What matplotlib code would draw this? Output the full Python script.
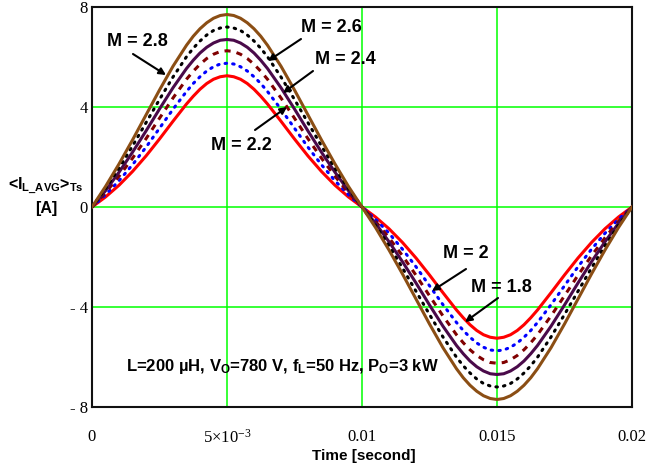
import numpy as np
import matplotlib
matplotlib.use("Agg")
import matplotlib.pyplot as plt

plt.rcParams['mathtext.fontset'] = 'custom'
plt.rcParams['mathtext.rm'] = 'Liberation Serif'
plt.rcParams['mathtext.it'] = 'Liberation Serif:italic'
plt.rcParams['mathtext.sf'] = 'Liberation Sans:bold'
plt.rcParams['mathtext.bf'] = 'Liberation Sans:bold'

# sample times in milliseconds (denser around the peaks)
time_ms = [0, 0.5, 1, 1.5, 2, 2.5, 3, 3.5, 3.75, 4, 4.25, 4.5, 4.75, 5, 5.25, 5.5, 5.75, 6, 6.25,
           6.5, 7, 7.5, 8, 8.5, 9, 9.5, 10,
           10.5, 11, 11.5, 12, 12.5, 13, 13.5, 13.75, 14, 14.25, 14.5, 14.75, 15, 15.25, 15.5, 15.75, 16, 16.25,
           16.5, 17, 17.5, 18, 18.5, 19, 19.5, 20]

i_m18 = [0, 0.40, 0.87, 1.42, 2.04, 2.72, 3.43, 4.12, 4.43, 4.71, 4.94, 5.11, 5.21, 5.25, 5.21, 5.11, 4.94, 4.71, 4.43,
         4.12, 3.43, 2.72, 2.04, 1.42, 0.87, 0.40, 0,
         -0.40, -0.87, -1.42, -2.04, -2.72, -3.43, -4.12, -4.43, -4.71, -4.94, -5.11, -5.21, -5.25, -5.21, -5.11, -4.94, -4.71, -4.43,
         -4.12, -3.43, -2.72, -2.04, -1.42, -0.87, -0.40, 0]
i_m20 = [0, 0.49, 1.05, 1.69, 2.39, 3.15, 3.91, 4.62, 4.94, 5.21, 5.44, 5.61, 5.72, 5.75, 5.72, 5.61, 5.44, 5.21, 4.94,
         4.62, 3.91, 3.15, 2.39, 1.69, 1.05, 0.49, 0,
         -0.49, -1.05, -1.69, -2.39, -3.15, -3.91, -4.62, -4.94, -5.21, -5.44, -5.61, -5.72, -5.75, -5.72, -5.61, -5.44, -5.21, -4.94,
         -4.62, -3.91, -3.15, -2.39, -1.69, -1.05, -0.49, 0]
i_m22 = [0, 0.57, 1.23, 1.95, 2.73, 3.55, 4.36, 5.11, 5.43, 5.71, 5.94, 6.11, 6.22, 6.25, 6.22, 6.11, 5.94, 5.71, 5.43,
         5.11, 4.36, 3.55, 2.73, 1.95, 1.23, 0.57, 0,
         -0.57, -1.23, -1.95, -2.73, -3.55, -4.36, -5.11, -5.43, -5.71, -5.94, -6.11, -6.22, -6.25, -6.22, -6.11, -5.94, -5.71, -5.43,
         -5.11, -4.36, -3.55, -2.73, -1.95, -1.23, -0.57, 0]
i_m24 = [0, 0.65, 1.39, 2.19, 3.04, 3.92, 4.77, 5.54, 5.87, 6.16, 6.39, 6.56, 6.67, 6.70, 6.67, 6.56, 6.39, 6.16, 5.87,
         5.54, 4.77, 3.92, 3.04, 2.19, 1.39, 0.65, 0,
         -0.65, -1.39, -2.19, -3.04, -3.92, -4.77, -5.54, -5.87, -6.16, -6.39, -6.56, -6.67, -6.70, -6.67, -6.56, -6.39, -6.16, -5.87,
         -5.54, -4.77, -3.92, -3.04, -2.19, -1.39, -0.65, 0]
i_m26 = [0, 0.74, 1.55, 2.44, 3.37, 4.30, 5.20, 6.01, 6.35, 6.64, 6.88, 7.06, 7.16, 7.20, 7.16, 7.06, 6.88, 6.64, 6.35,
         6.01, 5.20, 4.30, 3.37, 2.44, 1.55, 0.74, 0,
         -0.74, -1.55, -2.44, -3.37, -4.30, -5.20, -6.01, -6.35, -6.64, -6.88, -7.06, -7.16, -7.20, -7.16, -7.06, -6.88, -6.64, -6.35,
         -6.01, -5.20, -4.30, -3.37, -2.44, -1.55, -0.74, 0]
i_m28 = [0, 0.82, 1.72, 2.68, 3.68, 4.68, 5.63, 6.47, 6.83, 7.13, 7.37, 7.55, 7.66, 7.70, 7.66, 7.55, 7.37, 7.13, 6.83,
         6.47, 5.63, 4.68, 3.68, 2.68, 1.72, 0.82, 0,
         -0.82, -1.72, -2.68, -3.68, -4.68, -5.63, -6.47, -6.83, -7.13, -7.37, -7.55, -7.66, -7.70, -7.66, -7.55, -7.37, -7.13, -6.83,
         -6.47, -5.63, -4.68, -3.68, -2.68, -1.72, -0.82, 0]

x_ticks = [0, 0.005, 0.01, 0.015, 0.02]
x_ticklabels = ['0', '5×10$^{-3}$', '0.01', '0.015', '0.02']
y_ticks = [-8, -4, 0, 4, 8]
y_ticklabels = ['- 8', '- 4', '0', '4', '8']

time_s = np.array(time_ms) / 1000.0

fig = plt.figure(figsize=(6.51, 4.68), dpi=100)
ax = fig.add_axes([92/651, 1 - 407/468, (632-92)/651, (407-7)/468])

lw = 2.2
ax.plot(time_s, i_m18, color='#ff0000', lw=lw, solid_joinstyle='round', zorder=3)
ax.plot(time_s, i_m20, color='#0000ff', lw=lw, ls=(0, (0.5, 2.0)), dash_capstyle='round', zorder=3)
ax.plot(time_s, i_m22, color='#800000', lw=lw, ls=(0, (2.0, 2.0)), zorder=3)
ax.plot(time_s, i_m24, color='#4a0a4a', lw=lw, solid_joinstyle='round', zorder=3)
ax.plot(time_s, i_m26, color='#000000', lw=lw, ls=(0, (0.5, 2.0)), dash_capstyle='round', zorder=3)
ax.plot(time_s, i_m28, color='#8b4e14', lw=lw, solid_joinstyle='round', zorder=3)

ax.set_xlim(0, 0.02)
ax.set_ylim(-8, 8)
for xv in [0.005, 0.01, 0.015]:
    ax.axvline(xv, color='#00ff00', lw=1.1, zorder=1)
for yv in [-4, 0, 4]:
    ax.axhline(yv, color='#00ff00', lw=1.1, zorder=1)

ax.set_xticks(x_ticks)
ax.set_xticklabels(x_ticklabels, family='Liberation Serif', fontsize=12)
ax.set_yticks(y_ticks)
ax.set_yticklabels(y_ticklabels, family='Liberation Serif', fontsize=12)
ax.tick_params(axis='both', length=0)
ax.tick_params(axis='x', pad=16)
ax.tick_params(axis='y', pad=3)
for s in ax.spines.values():
    s.set_linewidth(1.5)
    s.set_color('#111111')

bold = dict(family='Liberation Sans', fontweight='bold', fontsize=13)

def to_data(xp, yp):
    return ((xp - 92) / 540 * 0.02, 8 - (yp - 7) / 400 * 16)

labels = [
    ('M = 2.8', (137, 42), (133, 54), (166, 75)),
    ('M = 2.6', (331, 27), (301, 39), (268, 61)),
    ('M = 2.4', (345, 59), (313, 71), (283, 93)),
    ('M = 2.2', (241, 145), (255, 130), (287, 107)),
    ('M = 2', (466, 254), (466, 269), (432, 291)),
    ('M = 1.8', (501, 288), (498, 298), (465, 322)),
]
for txt, tpos, a0, a1 in labels:
    ax.text(*to_data(*tpos), txt, ha='center', va='center', zorder=5, **bold)
    ax.annotate('', xy=to_data(*a1), xytext=to_data(*a0),
                arrowprops=dict(arrowstyle='-|>', color='black', lw=1.5,
                                mutation_scale=10, shrinkA=0, shrinkB=0), zorder=5)

ax.text(*to_data(126, 366),
        'L=200 µH, V$_\\mathsf{O}$=780 V, f$_\\mathsf{L}$=50 Hz, P$_\\mathsf{O}$=3 kW',
        ha='left', va='center', family='Liberation Sans', fontweight='bold', fontsize=12, zorder=5)

fig.text(46/651, 1 - 186/468, '<I$_{\\mathsf{L\\_AVG}}$>$_{\\mathsf{Ts}}$', ha='center', va='center',
         family='Liberation Sans', fontweight='bold', fontsize=11.5)
fig.text(46/651, 1 - 208/468, '[A]', ha='center', va='center',
         family='Liberation Sans', fontweight='bold', fontsize=11.5)
fig.text(364/651, 1 - 456/468, 'Time [second]', ha='center', va='center',
         family='Liberation Sans', fontweight='bold', fontsize=11)

fig.savefig('out.png', dpi=100)
